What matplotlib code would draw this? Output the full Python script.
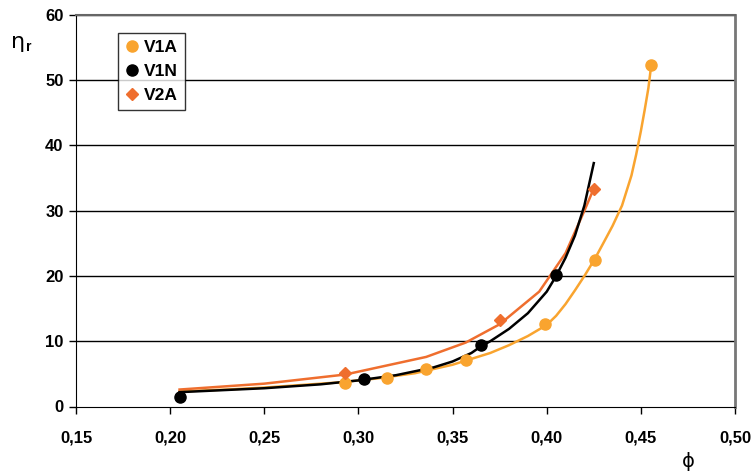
import matplotlib
matplotlib.use("Agg")
import matplotlib.pyplot as plt

plt.rcParams["font.family"] = ["Liberation Sans", "DejaVu Sans"]

# measured points
v1a_phi = [0.293, 0.315, 0.336, 0.357, 0.399, 0.4255, 0.4555]
v1a_eta = [3.6, 4.4, 5.7, 7.1, 12.6, 22.4, 52.3]
v1n_phi = [0.205, 0.303, 0.365, 0.405]
v1n_eta = [1.5, 4.2, 9.4, 20.1]
v2a_phi = [0.293, 0.375, 0.425]
v2a_eta = [5.2, 13.2, 33.4]

# fitted curves
v1a_fit_phi = [0.205, 0.23, 0.25, 0.27, 0.29, 0.31, 0.33, 0.35, 0.36, 0.37, 0.38, 0.39, 0.40,
               0.405, 0.41, 0.415, 0.42, 0.4255, 0.43, 0.435, 0.44, 0.445, 0.4475, 0.45, 0.452, 0.454, 0.4555]
v1a_fit_eta = [2.3, 2.6, 2.9, 3.3, 3.7, 4.3, 5.1, 6.4, 7.3, 8.2, 9.4, 10.8, 12.5,
               13.9, 15.7, 17.8, 20.0, 22.6, 25.0, 27.7, 30.8, 35.4, 38.6, 42.2, 45.4, 48.8, 52.3]
v1n_fit_phi = [0.205, 0.25, 0.28, 0.30, 0.32, 0.34, 0.35, 0.36, 0.365, 0.37, 0.38, 0.39, 0.40,
               0.405, 0.41, 0.415, 0.42, 0.425]
v1n_fit_eta = [2.2, 2.8, 3.4, 4.0, 4.8, 6.0, 6.9, 8.2, 9.2, 10.0, 11.9, 14.3, 17.6,
               20.0, 22.8, 26.2, 30.8, 37.3]
v2a_fit_phi = [0.205, 0.25, 0.293, 0.336, 0.357, 0.375, 0.396, 0.41, 0.42, 0.425]
v2a_fit_eta = [2.6, 3.5, 4.9, 7.6, 9.8, 12.6, 17.6, 23.5, 30.0, 33.4]

x_ticks = [0.15, 0.20, 0.25, 0.30, 0.35, 0.40, 0.45, 0.50]
y_ticks = [0, 10, 20, 30, 40, 50, 60]

c_v1a = "#F9A42F"
c_v2a = "#EF6E2E"

fig = plt.figure(figsize=(7.51, 4.73), dpi=100)
ax = fig.add_axes([76 / 751, 1 - 406.5 / 473, (735 - 76) / 751, (406.5 - 15) / 473])

for y in y_ticks[1:]:
    ax.axhline(y, color="black", lw=1.0, zorder=1)

ax.plot(v1a_fit_phi, v1a_fit_eta, color=c_v1a, lw=1.8, zorder=2)
ax.plot(v2a_fit_phi, v2a_fit_eta, color=c_v2a, lw=1.8, zorder=2)
ax.plot(v1n_fit_phi, v1n_fit_eta, color="black", lw=1.8, zorder=3)

ax.plot(v1a_phi, v1a_eta, "o", color=c_v1a, ms=8, ls="none", label="V1A", zorder=4)
ax.plot(v1n_phi, v1n_eta, "o", color="black", ms=8, ls="none", label="V1N", zorder=5)
ax.plot(v2a_phi, v2a_eta, "D", color=c_v2a, ms=6, ls="none", label="V2A", zorder=4)

ax.set_xlim(0.15, 0.50)
ax.set_ylim(0, 60)
ax.set_xticks(x_ticks)
ax.set_xticklabels([f"{t:.2f}".replace(".", ",") for t in x_ticks])
ax.set_yticks(y_ticks)
ax.tick_params(direction="out", length=5, width=1, labelsize=12, pad=4)
for lab in ax.get_xticklabels() + ax.get_yticklabels():
    lab.set_fontweight("bold")
ax.tick_params(axis="x", pad=12)

ax.spines["left"].set_color("black")
ax.spines["bottom"].set_color("black")
ax.spines["top"].set_color("#666666")
ax.spines["right"].set_color("#777777")
ax.spines["right"].set_linewidth(2)
ax.spines["top"].set_linewidth(1.5)

fig.text(11 / 751, 1 - 42 / 473, "η", fontsize=16, ha="left", va="center", family="DejaVu Sans")
fig.text(26 / 751, 1 - 47 / 473, "r", fontsize=10, fontweight="bold", ha="left", va="center")
fig.text(688 / 751, 1 - 461 / 473, "ϕ", fontsize=14, ha="center", va="center", family="DejaVu Sans")

leg = ax.legend(loc="upper left", bbox_to_anchor=(42 / 659, 1 - 18 / 391.5), frameon=True,
                fancybox=False, edgecolor="black", handlelength=0.8, handletextpad=0.3,
                borderpad=0.4, labelspacing=0.5, borderaxespad=0,
                prop={"weight": "bold", "size": 12.5})
leg.get_frame().set_linewidth(1.0)

fig.savefig("out.png", dpi=100)
